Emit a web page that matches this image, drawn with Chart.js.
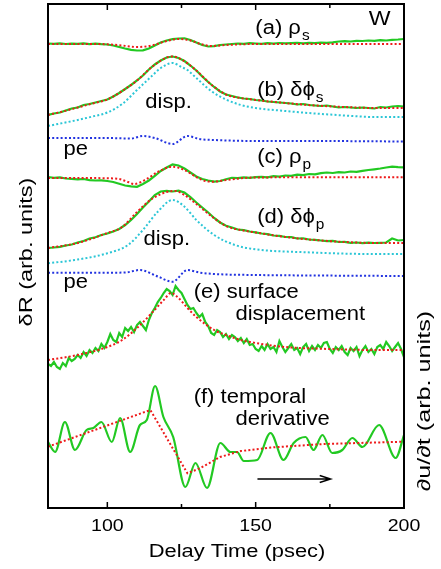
<!DOCTYPE html>
<html>
<head>
<meta charset="utf-8">
<script src="https://cdn.jsdelivr.net/npm/chart.js@4.4.1/dist/chart.umd.min.js"></script>
<style>
  html, body { margin: 0; padding: 0; background: #fff; }
  canvas { display: block; }
</style>
</head>
<body>
<canvas id="chart" width="441" height="569"></canvas>
<script>
// delay time axis (psec)
const xTicks = [100, 150, 200];
const xMinorTicks = [125, 175];

// sample times of the measured traces
const tCoarse = [80, 82, 84, 86, 88, 90, 92, 94, 96, 98, 100, 102, 104, 106, 108, 110, 112, 114, 116, 118, 120,
  122, 124, 126, 128, 130, 132, 134, 136, 138, 140, 142, 144, 146, 148, 150, 152, 154, 156, 158, 160,
  162, 164, 166, 168, 170, 172, 174, 176, 178, 180, 182, 184, 186, 188, 190, 192, 194, 196, 198, 200];
const tFine = [80, 81, 82, 83, 84, 85, 86, 87, 88, 89, 90, 91, 92, 93, 94, 95, 96, 97, 98, 99, 100,
  101, 102, 103, 104, 105, 106, 107, 108, 109, 110, 111, 112, 113, 114, 115, 116, 117, 118, 119, 120,
  121, 122, 123, 124, 125, 126, 127, 128, 129, 130, 131, 132, 133, 134, 135, 136, 137, 138, 139, 140,
  141, 142, 143, 144, 145, 146, 147, 148, 149, 150, 151, 152, 153, 154, 155, 156, 157, 158, 159, 160,
  161, 162, 163, 164, 165, 166, 167, 168, 169, 170, 171, 172, 173, 174, 175, 176, 177, 178, 179, 180,
  181, 182, 183, 184, 185, 186, 187, 188, 189, 190, 191, 192, 193, 194, 195, 196, 197, 198, 199, 200];

// (a) rho_s  (values in arb. units, traces stacked)
const aMeas = [464.5, 464.2, 464.7, 464, 464.4, 464.1, 464.6, 463.9, 464.3, 463.8, 463.5, 462.5, 461, 459.5, 458.2,
  457.5, 457.7, 459.5, 462.5, 465.5, 467.5, 468.8, 469.5, 469.7, 468, 465.5, 463, 461.5, 461.8, 463, 463.5,
  464, 464.5, 464.2, 464.8, 464.5, 464.2, 464.8, 464.4, 465, 464.6, 464.9, 465.2, 464.7, 465.1, 464.8,
  465.4, 465.1, 465.7, 466.5, 466.8, 466.5, 467.2, 467, 467.5, 467.2, 467.8, 467.5, 468.2, 468.5, 469];
const aFitT = [80, 85, 90, 95, 100, 105, 110, 115, 120, 124, 128, 132, 135, 140, 145, 150, 160, 170, 180, 190, 200];
const aFit = [464, 464, 464, 464, 463.7, 462.5, 461, 462.5, 467, 469, 467.5, 463.5, 462, 463, 463.7, 464, 464, 464, 464, 464, 464];

// (b) delta phi_s
const bMeas = [393, 394.5, 395.5, 397.5, 399.5, 400.5, 403, 404, 405.5, 407, 408.5, 411.5, 415, 419, 423,
  427.5, 432.5, 438.5, 443.5, 447.5, 450.5, 451.5, 450, 447, 442.5, 437.5, 431.5, 426, 421, 416.5, 413.5,
  412, 410.5, 409.5, 409, 408, 407.5, 406.5, 406, 405.5, 405, 404.5, 403.5, 404, 403, 402.5,
  402, 402.5, 401.5, 400.5, 401, 400.5, 400, 400.5, 400, 399.5, 401, 400.5, 401.5, 402, 401.5];
const bFitT = [80, 85, 90, 95, 100, 105, 110, 115, 120, 122, 125, 130, 135, 140, 145, 150, 160, 170, 180, 190, 200];
const bFit = [393, 396.5, 400.5, 404.5, 408.5, 417, 427.5, 441, 450.5, 451.5, 448.5, 437.5, 423.5, 413.5, 410, 408, 405, 402.5, 401, 400, 400];
const bDispT = [80, 85, 90, 95, 100, 105, 110, 115, 118, 122, 125, 127, 130, 135, 140, 145, 150, 160, 170, 180, 190, 200];
const bDisp = [382, 385, 388, 391.5, 395.5, 404, 418, 432, 440, 445, 441, 438, 430, 417, 408.5, 403, 400, 397, 394.5, 392.5, 391, 391];
const bPeT = [80, 90, 100, 108, 112, 116, 122, 127, 131, 136, 150, 170, 200];
const bPe = [370, 370, 370, 369.5, 372, 370, 364, 372, 369, 368, 367, 367, 366.5];

// (c) rho_p
const cMeas = [331, 330.2, 330.7, 329.5, 329.1, 328.6, 329, 327.8, 327.5, 327.7, 327, 326, 324.2, 322.5, 321.7,
  321.2, 324, 327.5, 332, 337, 340.5, 343.5, 342.5, 339.5, 335.5, 331.5, 329, 327.5, 326.3, 327, 328.7,
  330.2, 329.8, 330.6, 330.1, 330.8, 331.2, 330.7, 331.8, 331.4, 332.5, 332.2, 333.4, 332.9, 334, 333.7,
  334.8, 335.5, 335, 335.8, 335.5, 336.5, 336.2, 337.2, 338, 338.7, 339.5, 340.5, 341.3, 340.8, 340.7];
const cFitT = [80, 90, 100, 104, 107, 109, 113, 117, 122, 126, 130, 133, 136, 140, 145, 150, 170, 200];
const cFit = [330, 330, 329.7, 329, 326, 324, 328.5, 336, 341.3, 338, 331, 327, 326.3, 328, 329.7, 330.5, 330.7, 330.7];

// (d) delta phi_p
const dMeas = [260, 260.5, 261.2, 262.5, 263.5, 265.5, 267, 269.5, 270.7, 273, 274.5, 276.5, 279, 283, 288,
  294, 300.5, 306.5, 313, 316.5, 317.2, 316.5, 317.3, 315.5, 311, 305.5, 300.5, 295.5, 290, 285.5, 282.2,
  280.5, 278.5, 277.8, 276.5, 275.7, 274.5, 273.8, 272.5, 272.2, 271, 270.8, 269.5, 269.7, 268.5, 268.2,
  267.5, 266.8, 267.2, 266, 266.2, 265.2, 265.5, 264.8, 265.4, 265, 265.2, 265.5, 269.5, 267.5, 268];
const dFitT = [80, 90, 100, 105, 110, 115, 120, 123, 126, 130, 135, 140, 145, 150, 160, 170, 180, 190, 200];
const dFit = [260, 265, 275, 281, 296, 309, 316, 317, 313, 304, 292, 282, 278, 275.5, 271, 268, 266, 265, 265];
const dDispT = [80, 89, 100, 107, 112, 117, 122, 126, 130, 136, 143, 150, 167, 190, 200];
const dDisp = [244.7, 248, 254.7, 263, 278, 296.3, 308, 301.3, 288, 273, 263, 258.7, 255.7, 254, 254];
const dPeT = [80, 100, 106, 111, 117, 122, 127, 131, 136, 150, 170, 200];
const dPe = [235.3, 235.3, 235.5, 238, 231.5, 226.3, 238, 235.5, 234, 233, 232.5, 232];

// (e) surface displacement
const eMeas = [144, 142, 146, 141, 139, 145, 142, 150, 147, 149, 153, 150, 156, 152, 158, 155, 160, 157, 164, 160,
  166, 174, 168, 166, 175, 171, 180, 177, 181, 176, 183, 186, 182, 178, 188, 195, 200, 206, 210, 215,
  219, 217, 213, 222, 218, 215, 209, 203, 199, 200, 195, 191, 194, 186, 182, 175, 173, 178, 176, 171,
  174, 169, 173, 171, 167, 170, 165, 169, 163, 164, 159, 157, 162, 158, 164, 159, 161, 156, 167, 161,
  156, 160, 164, 158, 160, 154, 161, 164, 157, 162, 158, 163, 160, 165, 166, 159, 155, 161, 158, 162,
  156, 153, 160, 157, 161, 152, 158, 162, 156, 159, 154, 161, 163, 159, 166, 162, 157, 161, 165, 159, 151];
const eFitT = [80, 90, 100, 105, 110, 115, 119, 121.5, 124, 127, 130, 136, 140, 145, 150, 160, 175, 190, 200];
const eFit = [148, 153, 161, 168, 180, 195, 208, 215, 210, 200, 191, 178, 173, 168, 165, 161, 159, 158, 158];

// (f) temporal derivative
const fMeasT = [80, 82.4, 85.7, 89.1, 93, 95.3, 98, 101.5, 104.3, 107.7, 111, 113.3, 116.1, 118.9, 122.2, 126.3,
  129.7, 133.6, 138.1, 141.5, 143.7, 146, 150.5, 155, 159.4, 162.8, 166.8, 169.5, 172.5, 175.8, 179.2,
  182.6, 186, 191.6, 197.2, 200];
const fMeas = [66, 56, 86, 58, 78, 80, 86, 66, 90, 56, 83, 88, 122, 91, 71, 21, 45, 20, 65, 56, 56, 47, 48, 75,
  48, 65, 71, 58, 73, 55, 58, 70, 61, 83, 50, 73];
const fFitT = [80, 114.5, 127, 131.4, 138, 145, 156, 173, 200];
const fFit = [61.3, 98, 34.7, 40, 51, 57, 60.7, 64, 66.3];

const arrowT = [150.6, 175.3];
const arrowV = 29;

const panelLabels = [
  { text: '(a) ρ', sub: 's', t: 149.9, v: 474.5 },
  { text: 'W', t: 188.1, v: 483 },
  { text: '(b) δϕ', sub: 's', t: 150.5, v: 412 },
  { text: 'disp.', t: 112.8, v: 399.7 },
  { text: 'pe', t: 85.2, v: 353 },
  { text: '(c) ρ', sub: 'p', t: 150.5, v: 344.7 },
  { text: '(d) δϕ', sub: 'p', t: 150.5, v: 284.7 },
  { text: 'disp.', t: 112.2, v: 263 },
  { text: 'pe', t: 85.2, v: 219.7 },
  { text: '(e) surface', t: 129.1, v: 209.7 },
  { text: 'displacement', t: 143.2, v: 188 },
  { text: '(f) temporal', t: 129.1, v: 104.7 },
  { text: 'derivative', t: 143.2, v: 83 }
];

const GREEN = '#22c922';
const RED = '#ee1a1a';
const CYAN = '#2cc6d6';
const BLUE = '#2233e0';
const FONT = '"Liberation Sans", Arial, Helvetica, sans-serif';

function pts(ts, vs) {
  return ts.map((t, i) => ({ x: t, y: vs[i] }));
}

function measured(ts, vs, smooth) {
  return {
    data: pts(ts, vs),
    borderColor: GREEN,
    borderWidth: 2.2,
    pointRadius: 0,
    tension: 0,
    cubicInterpolationMode: smooth ? 'monotone' : 'default',
    order: 2
  };
}

function dotted(ts, vs, color, straight) {
  return {
    data: pts(ts, vs),
    borderColor: color,
    borderWidth: 2,
    borderDash: [2, 2.2],
    pointRadius: 0,
    tension: 0,
    cubicInterpolationMode: straight ? 'default' : 'monotone',
    order: 1
  };
}

function drawText(ctx, str, x, y, size, sx, align) {
  ctx.save();
  ctx.translate(x, y);
  ctx.scale(sx, 1);
  ctx.font = size + 'px ' + FONT;
  ctx.textAlign = align || 'left';
  ctx.fillText(str, 0, 0);
  const w = ctx.measureText(str).width * sx;
  ctx.restore();
  return w;
}

const framePlugin = {
  id: 'frame',
  afterDraw(chart) {
    const { ctx, chartArea: area, scales } = chart;
    const xs = scales.x, ys = scales.y;
    ctx.save();
    ctx.strokeStyle = '#000';
    ctx.fillStyle = '#000';

    // box
    ctx.lineWidth = 2;
    ctx.strokeRect(area.left, area.top, area.right - area.left, area.bottom - area.top);

    // inward ticks, top and bottom
    ctx.lineWidth = 1.5;
    xTicks.concat(xMinorTicks).forEach(v => {
      const px = xs.getPixelForValue(v);
      const len = xTicks.includes(v) ? 6 : 4;
      ctx.beginPath();
      ctx.moveTo(px, area.bottom);
      ctx.lineTo(px, area.bottom - len);
      ctx.moveTo(px, area.top);
      ctx.lineTo(px, area.top + len);
      ctx.stroke();
    });

    // tick labels
    ctx.textBaseline = 'middle';
    xTicks.forEach(v => {
      drawText(ctx, String(v), xs.getPixelForValue(v), area.bottom + 18, 17, 1.15, 'center');
    });
    drawText(ctx, 'Delay Time (psec)', 237, 552, 17.5, 1.25, 'center');

    // axis titles
    ctx.save();
    ctx.translate(27, 252);
    ctx.rotate(-Math.PI / 2);
    drawText(ctx, 'δR (arb. units)', 0, 0, 18.5, 1.27, 'center');
    ctx.restore();
    ctx.save();
    ctx.translate(425, 401);
    ctx.rotate(-Math.PI / 2);
    drawText(ctx, '∂u/∂t (arb. units)', 0, 0, 18, 1.4, 'center');
    ctx.restore();

    // panel labels
    ctx.textBaseline = 'alphabetic';
    panelLabels.forEach(l => {
      const x = xs.getPixelForValue(l.t);
      const y = ys.getPixelForValue(l.v);
      const w = drawText(ctx, l.text, x, y, l.text === 'W' ? 21 : 20, 1.1, 'left');
      if (l.sub) drawText(ctx, l.sub, x + w + 1, y + 6, 14, 1.1, 'left');
    });

    // arrow
    const ax1 = xs.getPixelForValue(arrowT[0]);
    const ax2 = xs.getPixelForValue(arrowT[1]);
    const ay = ys.getPixelForValue(arrowV);
    ctx.lineWidth = 1.4;
    ctx.beginPath();
    ctx.moveTo(ax1, ay);
    ctx.lineTo(ax2, ay);
    ctx.moveTo(ax2 - 11, ay - 3.5);
    ctx.lineTo(ax2, ay);
    ctx.lineTo(ax2 - 11, ay + 3.5);
    ctx.stroke();
    ctx.restore();
  }
};

new Chart(document.getElementById('chart').getContext('2d'), {
  type: 'line',
  data: {
    datasets: [
      measured(tCoarse, aMeas),
      dotted(aFitT, aFit, RED),
      measured(tCoarse, bMeas),
      dotted(bFitT, bFit, RED),
      dotted(bDispT, bDisp, CYAN),
      dotted(bPeT, bPe, BLUE),
      measured(tCoarse, cMeas),
      dotted(cFitT, cFit, RED),
      measured(tCoarse, dMeas),
      dotted(dFitT, dFit, RED),
      dotted(dDispT, dDisp, CYAN),
      dotted(dPeT, dPe, BLUE),
      measured(tFine, eMeas),
      dotted(eFitT, eFit, RED),
      measured(fMeasT, fMeas, true),
      dotted(fFitT, fFit, RED, true)
    ]
  },
  options: {
    responsive: false,
    animation: false,
    devicePixelRatio: 1,
    layout: { padding: { left: 48, right: 37, top: 4, bottom: 61 } },
    plugins: {
      legend: { display: false },
      tooltip: { enabled: false }
    },
    scales: {
      x: { type: 'linear', min: 80, max: 200, display: false },
      y: { min: 0, max: 504, display: false }
    }
  },
  plugins: [framePlugin]
});
</script>
</body>
</html>
